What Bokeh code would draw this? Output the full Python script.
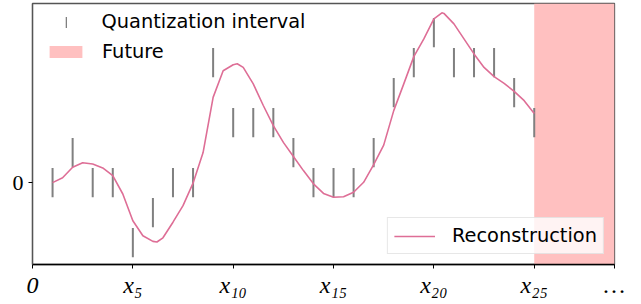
import numpy as np
from bokeh.plotting import figure
from bokeh.models import FixedTicker, Legend, LegendItem
from bokeh.embed import file_html
from bokeh.resources import INLINE

# Quantized samples (centre of each quantization interval), x = 1..25
q_x = list(range(1, 26))
q_y = [0, 1, 0, 0, -2, -1, 0, 0, 4, 2, 2, 2, 1, 0, 0, 0, 1, 3, 4, 5, 4, 4, 4, 3, 2]
q_half = 0.49

# Reconstruction curve
rec_x = [1.0, 1.5, 2.0, 2.5, 3.0, 3.5, 4.0, 4.5, 5.0, 5.5, 6.0, 6.2, 6.5, 7.0, 7.5,
         8.0, 8.5, 9.0, 9.5, 10.0, 10.2, 10.5, 11.0, 11.5, 12.0, 12.5, 13.0, 13.5,
         14.0, 14.5, 15.0, 15.5, 16.0, 16.5, 17.0, 17.5, 18.0, 18.5, 19.0, 19.5,
         20.0, 20.4, 20.5, 21.0, 21.5, 22.0, 22.5, 23.0, 23.5, 24.0, 24.5, 25.0]
rec_y = [0.0, 0.16, 0.51, 0.66, 0.62, 0.49, 0.23, -0.38, -1.27, -1.77, -1.96, -1.98,
         -1.84, -1.32, -0.77, -0.02, 1.0, 2.84, 3.73, 3.93, 3.96, 3.84, 3.29, 2.57,
         1.9, 1.34, 0.87, 0.4, -0.04, -0.36, -0.49, -0.47, -0.32, 0.01, 0.6, 1.25,
         2.4, 3.29, 4.2, 4.79, 5.46, 5.66, 5.64, 5.29, 4.79, 4.29, 3.84, 3.53, 3.31,
         3.04, 2.73, 2.3]

future_start = 25
x_end = 29
y_lo, y_hi = -2.73, 5.97

x_ticks = [0, 5, 10, 15, 20, 25, 29]
x_tick_labels = ["0", "x\u2085", "x\u2081\u2080", "x\u2081\u2085", "x\u2082\u2080", "x\u2082\u2085", "\u2026"]
y_ticks = [0]
y_tick_labels = ["0"]

GREY = "#808080"
PINK_LINE = "#de6e96"
FUTURE = "#ffc0c0"

p = figure(width=640, height=302, x_range=(0, x_end), y_range=(y_lo, y_hi),
           output_backend="svg", toolbar_location=None,
           min_border_left=32, min_border_right=26, min_border_top=3, min_border_bottom=38)

p.grid.visible = False
p.outline_line_color = "#555555"
p.outline_line_width = 1.3

fut_r = p.quad(left=[future_start], right=[x_end], bottom=[y_lo], top=[y_hi],
               fill_color=FUTURE, fill_alpha=1.0, line_alpha=0)

# quantization intervals: thin vertical bars one quantization step tall
qy = np.array(q_y, dtype=float)
q_r = p.vbar(x=q_x, bottom=qy - q_half, top=qy + q_half, width=0.1,
             fill_color=GREY, line_alpha=0)

curve = p.line(rec_x, rec_y, line_color=PINK_LINE, line_width=1.6)

common = dict(label_text_font="DejaVu Sans", label_text_font_size="19.4px",
              label_text_color="black", border_line_alpha=0, background_fill_alpha=0,
              padding=0, margin=0, spacing=0)

legA = Legend(items=[LegendItem(label="Quantization interval", renderers=[q_r])],
              location=(32.5, 231), glyph_width=2, glyph_height=14,
              label_standoff=35, **common)
p.add_layout(legA)

legB = Legend(items=[LegendItem(label="Future", renderers=[fut_r])],
              location=(13, 201.5), glyph_width=41, glyph_height=15,
              label_standoff=16, **common)
p.add_layout(legB)

leg2 = Legend(items=[LegendItem(label="Reconstruction", renderers=[curve])],
              location="bottom_right", margin=10, padding=6, glyph_width=41,
              glyph_height=22, label_standoff=17, border_line_color="#d0d0d0",
              border_line_width=1, background_fill_color="white",
              background_fill_alpha=0.8, label_text_font="DejaVu Sans",
              label_text_font_size="19.4px", label_text_color="black")
p.add_layout(leg2)

p.xaxis.ticker = FixedTicker(ticks=x_ticks)
p.xaxis.major_label_overrides = dict(zip(x_ticks, x_tick_labels))
p.yaxis.ticker = FixedTicker(ticks=y_ticks)
p.yaxis.major_label_overrides = dict(zip(y_ticks, y_tick_labels))
for ax in (p.xaxis[0], p.yaxis[0]):
    ax.minor_tick_line_color = None
    ax.major_tick_out = 4
    ax.major_tick_in = 0
    ax.major_tick_line_color = "black"
    ax.major_label_text_font = "Liberation Serif"
    ax.major_label_text_color = "black"
p.xaxis.major_label_text_font_size = "24px"
p.yaxis.major_label_text_font_size = "22px"
p.xaxis.major_label_text_font_style = "italic"
p.xaxis.axis_line_color = "black"
p.xaxis.axis_line_width = 1.3
p.yaxis.axis_line_color = "#555555"
p.yaxis.axis_line_width = 1.3
p.xaxis.major_label_standoff = 3
p.yaxis.major_label_standoff = 5

open("out.html", "w").write(file_html(p, INLINE))
